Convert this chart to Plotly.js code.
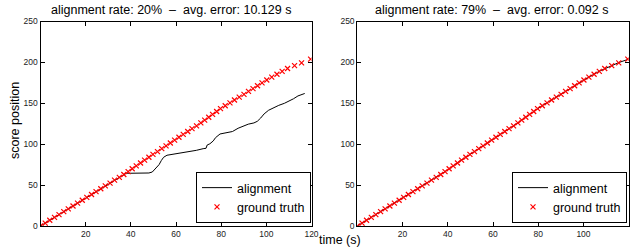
<!DOCTYPE html>
<html>
<head>
<meta charset="utf-8">
<script src="https://cdn.plot.ly/plotly-3.0.1.min.js"></script>
<style>html,body{margin:0;padding:0;background:#fff;}#chart{width:636px;height:247px;}</style>
</head>
<body>
<div id="chart"></div>
<script>
// Ground truth (time in s, score position)
var gtTime = [0,2.1,4.1,6.2,8.2,10.3,12.3,14.4,16.4,18.5,20.5,22.6,24.6,26.7,28.7,30.8,32.8,34.9,36.9,38.8,40.6,42.4,44.3,46.1,48.0,49.8,51.8,53.7,55.6,57.5,59.4,61.3,63.2,65.2,67.1,69.1,71.0,72.7,74.5,76.2,78.0,79.7,81.8,83.9,85.9,88.0,90.1,92.1,94.1,96.1,98.1,100.2,102.4,104.7,107.0,109.4,112.5,115.6,119.6];
var gtPos  = [0,3.5,7,10.5,14,17.5,21,24.5,28,31.5,35,38.5,42,45.5,49,52.5,56,59.5,63,66.5,70,73.5,77,80.5,84,87.5,91,94.5,98,101.5,105,108.5,112,115.5,119,122.5,126,129.5,133,136.5,140,143.5,147,150.5,154,157.5,161,164.5,168,171.5,175,178.5,182,185.5,189,192.5,196,199.5,204];

// Left: alignment (rate 20%)
var alignLeftTime = [0,5,10,15,20,25,30,35,37,38,40,44,48,49.5,51,52.5,53.5,54.5,56,58,61,64,66.5,69,72,73.3,73.8,75,76.5,77.5,79.5,82,85,87.5,90,92,94.5,96,97.5,99,101,103,105.5,108,110,112,114,116,117];
var alignLeftPos  = [0,8.5,17,25.5,34,42.5,51,60,63.5,64.5,64.5,64.5,64.8,66,70,75,80,84,86.5,87.3,88.5,90,91.5,92.5,94.5,95,99,100.5,104,108,112.5,114,115.5,119.5,122.5,124.5,126,128,132,137,141.5,144.5,147.5,150,152.5,155.5,159,161.5,162];

// Right: alignment (rate 79%)
var alignRightTime = [0,4.1,8.2,12.3,16.4,20.5,24.6,28.7,32.8,36.9,40.6,44.3,48.0,51.8,55.6,59.4,63.2,67.1,71.0,74.5,78.0,81.8,85.9,90.1,94.1,98.1,102.4,107.0,110.0,112.5,115.6,119.6];
var alignRightPos  = [0,7.2,14.1,21.3,28.1,35.2,42.1,49.2,56.1,63.3,69.6,77.3,84.0,91.2,97.8,105.3,112.3,119.2,126.0,133.2,140.0,147.2,154.0,161.3,167.8,175.2,182.0,189.2,193.2,196.3,199.8,203.6];

var titles = ['alignment rate: 20%  \u2013  avg. error: 10.129 s', 'alignment rate: 79%  \u2013  avg. error: 0.092 s'];
var xTicks = [20,40,60,80,100,120];
var yTicks = [0,50,100,150,200,250];

var W = 636, H = 247;
var FONT = 'Liberation Sans, Arial, Helvetica, sans-serif';

function lineTrace(x, y, xa, ya, lg) {
  return {x: x, y: y, xaxis: xa, yaxis: ya, type: 'scatter', mode: 'lines', name: 'alignment',
          line: {color: '#000', width: 1}, legend: lg, hoverinfo: 'skip'};
}
function gtTrace(xa, ya, lg) {
  return {x: gtTime, y: gtPos, xaxis: xa, yaxis: ya, type: 'scatter', mode: 'markers', name: 'ground truth',
          marker: {symbol: 'x-thin', size: 5, color: '#ff0000', line: {color: '#ff0000', width: 1.2}},
          legend: lg, hoverinfo: 'skip'};
}

var data = [
  lineTrace(alignLeftTime, alignLeftPos, 'x', 'y', 'legend'),
  gtTrace('x', 'y', 'legend'),
  lineTrace(alignRightTime, alignRightPos, 'x2', 'y2', 'legend2'),
  gtTrace('x2', 'y2', 'legend2')
];

function xAxis(domain, anchor) {
  return {domain: domain, anchor: anchor, range: [0, 120], tickvals: xTicks, ticks: 'inside', ticklen: 4,
          tickcolor: '#000', showline: true, linecolor: '#000', linewidth: 1, mirror: 'ticks',
          showgrid: false, zeroline: false, tickfont: {family: FONT, size: 8.5, color: '#222'}, fixedrange: true};
}
function yAxis(domain, anchor) {
  return {domain: domain, anchor: anchor, range: [0, 250], tickvals: yTicks, ticks: 'inside', ticklen: 4,
          tickcolor: '#000', showline: true, linecolor: '#000', linewidth: 1, mirror: 'ticks',
          showgrid: false, zeroline: false, tickfont: {family: FONT, size: 8.5, color: '#222'}, fixedrange: true};
}

var yDom = [21 / H, (H - 21.5) / H];
function legend(xRightPx) {
  return {x: xRightPx / W, xanchor: 'right', y: (H - 223) / H, yanchor: 'bottom',
          bgcolor: '#fff', bordercolor: '#000', borderwidth: 1,
          font: {family: FONT, size: 12.5, color: '#000'}, tracegroupgap: 0, itemwidth: 30};
}

var layout = {
  width: W, height: H,
  margin: {l: 0, r: 0, t: 0, b: 0},
  paper_bgcolor: '#fff', plot_bgcolor: '#fff',
  showlegend: true,
  xaxis: xAxis([40.5 / W, 311.5 / W], 'y'),
  yaxis: yAxis(yDom, 'x'),
  xaxis2: xAxis([357.3 / W, 628.7 / W], 'y2'),
  yaxis2: yAxis(yDom, 'x2'),
  legend: legend(311),
  legend2: legend(627),
  annotations: [
    {text: titles[0], xref: 'paper', yref: 'paper', x: 170.5 / W, y: 1 - 10 / H, xanchor: 'center', yanchor: 'middle',
     showarrow: false, font: {family: FONT, size: 12.5, color: '#000'}},
    {text: titles[1], xref: 'paper', yref: 'paper', x: 491.5 / W, y: 1 - 10 / H, xanchor: 'center', yanchor: 'middle',
     showarrow: false, font: {family: FONT, size: 12.5, color: '#000'}},
    {text: 'score position', xref: 'paper', yref: 'paper', x: 15 / W, y: 1 - 121 / H, xanchor: 'center', yanchor: 'middle',
     textangle: -90, showarrow: false, font: {family: FONT, size: 12.5, color: '#000'}},
    {text: 'time (s)', xref: 'paper', yref: 'paper', x: 340 / W, y: 1 - 240 / H, xanchor: 'center', yanchor: 'middle',
     showarrow: false, font: {family: FONT, size: 12.5, color: '#000'}}
  ]
};

Plotly.newPlot('chart', data, layout, {displayModeBar: false, staticPlot: true});
</script>
</body>
</html>
